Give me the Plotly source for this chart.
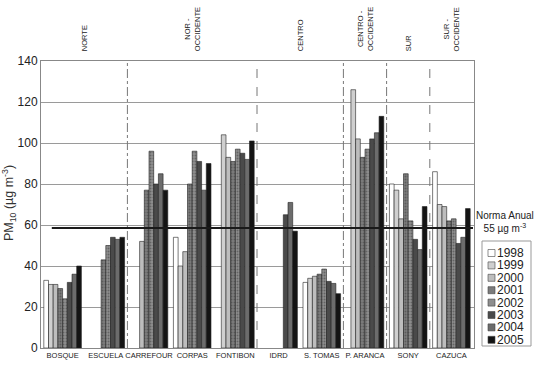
import plotly.graph_objects as go

# ---------------- data ----------------
STATIONS = ['BOSQUE', 'ESCUELA', 'CARREFOUR', 'CORPAS', 'FONTIBON',
            'IDRD', 'S. TOMAS', 'P. ARANCA', 'SONY', 'CAZUCA']
YEARS = ['1998', '1999', '2000', '2001', '2002', '2003', '2004', '2005']

v1998 = [33, None, None, 54, None, None, 32, None, 80, 86]
v1999 = [31, None, None, 40, 104, None, 34, 126, 77, 70]
v2000 = [31, None, 52, 47, 93, None, 35, 102, 63, 69]
v2001 = [29, 43, 77, 80, 91, None, 36, 93, 85, 62]
v2002 = [24, 50, 96, 96, 97, None, 38.5, 97, 62, 63]
v2003 = [32, 54, 80, 91, 95, 65, 32.5, 102, 53, 51]
v2004 = [36, 53, 85, 77, 92, 71, 31.5, 105, 48, 54]
v2005 = [40, 54, 77, 90, 101, 57, 26.5, 113, 69, 68]
SERIES = [v1998, v1999, v2000, v2001, v2002, v2003, v2004, v2005]

REGIONS = ['NORTE', 'NOR -<br>OCCIDENTE', 'CENTRO', 'CENTRO -<br>OCCIDENTE',
           'SUR', 'SUR -<br>OCCIDENTE']
REGION_SIZES = [2, 3, 2, 1, 1, 1]

NORMA = 58.5
NORMA_LABEL = 'Norma Anual<br>55 µg m<sup>-3</sup>'

Y_TICKS = [0, 20, 40, 60, 80, 100, 120, 140]

# ---------------- style ----------------
COLORS = ['#ffffff', '#cfcfcf', '#bdbdbd', '#7c7c7c', '#8e8e8e',
          '#4a4a4a', '#6c6c6c', '#141414']
PATTERNED = [False, False, False, True, True, False, False, False]
FONT = 'Liberation Sans, Arial, sans-serif'

W, H = 535, 366
L, R, T, B = 41, 61, 61, 18
PW, PH = W - L - R, H - T - B


def px(xp):
    return (xp - L) / PW


def py(yp):
    return (H - B - yp) / PH


fig = go.Figure()
for yr, vals, col, pat in zip(YEARS, SERIES, COLORS, PATTERNED):
    marker = dict(color=col, line=dict(color='#222222', width=0.6))
    if pat:
        marker['pattern'] = dict(shape='.', fgcolor='#3a3a3a', bgcolor=col,
                                 size=3, solidity=0.35, fillmode='overlay')
    fig.add_trace(go.Bar(x=STATIONS, y=vals, name=yr, marker=marker,
                         showlegend=False))

shapes = []
annotations = []

# region separators and labels
start = 0
dashes = ['dashdot', 'dash', 'dashdot', 'dashdot', 'dash']
for i, (reg, n) in enumerate(zip(REGIONS, REGION_SIZES)):
    center = start + (n - 1) / 2
    annotations.append(dict(
        x=center, xref='x', y=1, yref='paper', xanchor='center',
        yanchor='bottom', yshift=8, text=reg, textangle=-90, showarrow=False,
        font=dict(family=FONT, size=7.5, color='#222222')))
    end = start + n
    if i < len(REGIONS) - 1:
        shapes.append(dict(type='line', xref='x', yref='y',
                           x0=end - 0.5, x1=end - 0.5, y0=0, y1=140,
                           line=dict(color='#777777', width=1, dash=dashes[i])))
    start = end

# norm line
shapes.append(dict(type='line', xref='x', yref='y', x0=-0.25,
                   x1=len(STATIONS) - 0.5, y0=NORMA, y1=NORMA,
                   line=dict(color='#1a1a1a', width=2), layer='above'))
annotations.append(dict(x=px(505), y=py(222), xref='paper', yref='paper',
                        xanchor='center', yanchor='middle',
                        text=NORMA_LABEL, showarrow=False, align='center',
                        borderpad=0,
                        font=dict(family=FONT, size=10, color='#222222')))

# y title
annotations.append(dict(x=0, y=0.505, xref='paper', yref='paper',
                        xanchor='center', yanchor='middle', xshift=-32,
                        text='PM<sub>10</sub> (µg m<sup>-3</sup>)',
                        textangle=-90, showarrow=False,
                        font=dict(family=FONT, size=12.5, color='#333333')))

# manual legend
shapes.append(dict(type='rect', xref='paper', yref='paper',
                   x0=px(482), x1=px(531), y0=py(346), y1=py(241),
                   line=dict(color='#999999', width=1), fillcolor='white'))
for k, (yr, col) in enumerate(zip(YEARS, COLORS)):
    cy = 253 + k * 12.4
    shapes.append(dict(type='rect', xref='paper', yref='paper',
                       x0=px(488), x1=px(495), y0=py(cy + 3.5), y1=py(cy - 3.5),
                       line=dict(color='#444444', width=0.6), fillcolor=col))
    annotations.append(dict(x=px(496), y=py(cy), xref='paper', yref='paper',
                            xanchor='left', yanchor='middle', text=yr,
                            showarrow=False, borderpad=0,
                            font=dict(family=FONT, size=12, color='#222222')))

fig.update_layout(
    width=W, height=H,
    margin=dict(l=L, r=R, t=T, b=B, autoexpand=False),
    paper_bgcolor='white', plot_bgcolor='white',
    barmode='group', bargap=0.13, bargroupgap=0,
    font=dict(family=FONT, color='#222222'),
    shapes=shapes, annotations=annotations,
    showlegend=False,
)
fig.update_xaxes(showline=True, linecolor='#888888', linewidth=1, mirror=True,
                 showgrid=False, ticks='', tickangle=0,
                 tickfont=dict(size=7.5, color='#222222'))
fig.update_yaxes(range=[0, 140], tickvals=Y_TICKS, showgrid=True,
                 gridcolor='#9a9a9a', gridwidth=1, showline=True,
                 linecolor='#888888', linewidth=1, mirror=True, ticks='',
                 tickfont=dict(size=12, color='#222222'), zeroline=False)

fig.write_html('out.html',
               config={'displayModeBar': False},
               post_script="document.body.style.margin='0px';"
                           "document.body.style.overflow='hidden';")
